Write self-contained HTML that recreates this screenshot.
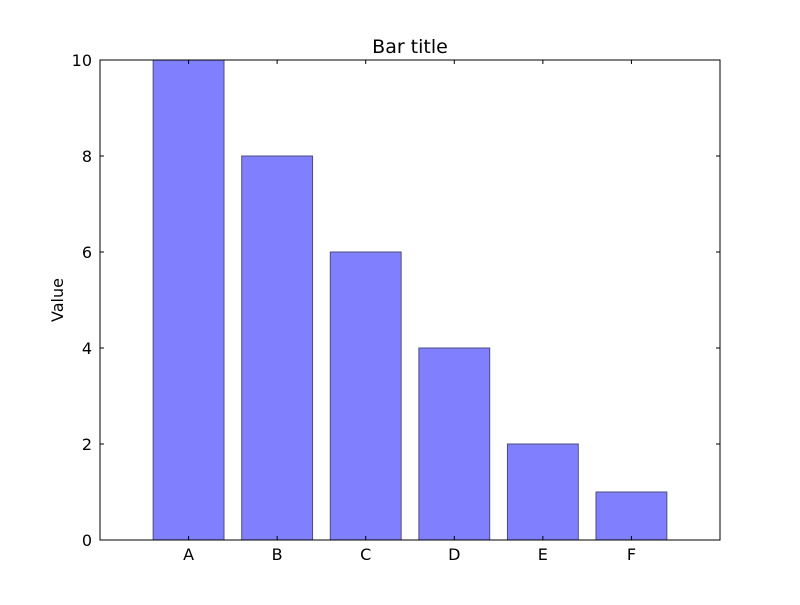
<!DOCTYPE html>
<html><head><meta charset="utf-8"><style>
body{margin:0;background:#fff}
svg text{font-family:"DejaVu Sans","Liberation Sans",sans-serif;font-size:16px;fill:#000}
</style></head><body>
<svg width="800" height="600" xmlns="http://www.w3.org/2000/svg">
<rect width="800" height="600" fill="#fff"/>
<g id="plot"></g>
<text x="410" y="53" text-anchor="middle" style="font-size:19px">Bar title</text>
<text transform="translate(63,300) rotate(-90)" text-anchor="middle">Value</text>
</svg>
<script>
const categories = ["A","B","C","D","E","F"];
const values = [10,8,6,4,2,1];
const yTicks = [0,2,4,6,8,10];
const L=100,R=720,T=60,B=540, xmin=-1,xmax=6,ymin=0,ymax=10, bw=0.8;
const xs=v=>L+(v-xmin)/(xmax-xmin)*(R-L);
const ys=v=>B-(v-ymin)/(ymax-ymin)*(B-T);
const NS="http://www.w3.org/2000/svg";
const g=document.getElementById('plot');
function mk(t,a){const e=document.createElementNS(NS,t);for(const k in a)e.setAttribute(k,a[k]);g.appendChild(e);return e;}
values.forEach((v,i)=>{
  const r=mk('rect',{x:xs(i-bw/2),y:ys(v),width:xs(i+bw/2)-xs(i-bw/2),height:ys(0)-ys(v),fill:'#8080ff',stroke:'#4d4d80','stroke-width':1});
  
  
  const x=xs(i);
  mk('line',{x1:x,x2:x,y1:B,y2:B-4,stroke:'#000'});
  mk('line',{x1:x,x2:x,y1:T,y2:T+4,stroke:'#000'});
  const t=mk('text',{x:x,y:B+20,'text-anchor':'middle'});t.textContent=categories[i];
  
  
});
yTicks.forEach(v=>{
  const y=ys(v);
  mk('line',{x1:L,x2:L+4,y1:y,y2:y,stroke:'#000'});
  mk('line',{x1:R,x2:R-4,y1:y,y2:y,stroke:'#000'});
  const t=mk('text',{x:L-8,y:y+6,'text-anchor':'end'});t.textContent=v;
  
  
});
const f=mk('rect',{x:L,y:T,width:R-L,height:B-T,fill:'none',stroke:'#000','stroke-width':1});


</script>
</body></html>
